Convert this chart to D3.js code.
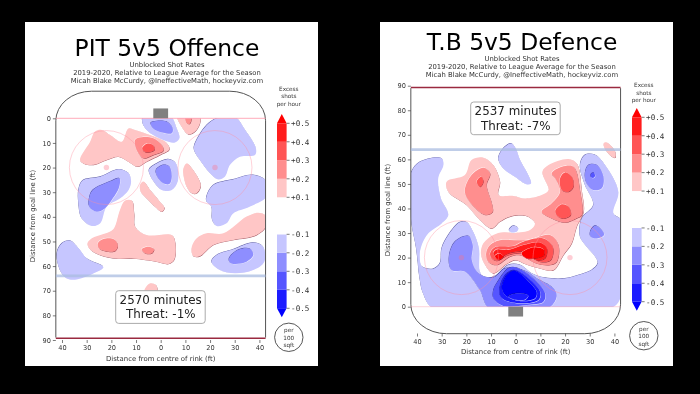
<!DOCTYPE html>
<html><head><meta charset="utf-8">
<script src="https://cdn.jsdelivr.net/npm/d3@7"></script>
<style>html,body{margin:0;padding:0;background:#000}svg{display:block}text{font-family:"DejaVu Sans";fill:#222}</style>
</head><body><svg id="c" width="700" height="394"></svg>
<script>
const bandValues = [-0.5,-0.4,-0.3,-0.2,-0.1,0.1,0.2,0.3,0.4,0.5];
const bandColors = ["#0000ff","#1c1cff","#5555ff","#8e8eff","#c6c6ff","#ffc6c6","#ff8e8e","#ff5555","#ff1c1c","#ff0000"];
const xTicks = [-40,-30,-20,-10,0,10,20,30,40];
const yTicks = [0,10,20,30,40,50,60,70,80,90];
const cbarTicks = [0.5,0.4,0.3,0.2,0.1,-0.1,-0.2,-0.3,-0.4,-0.5];

const pitLevels = [.1,.2,.3,-.1,-.2,.1,.2,-.1,-.1,-.2,-.1,-.2,.1,.1,-.1,.1,.2,.2,.1,-.1,-.2,-.1,.1];
const pitRings = [
[[-32.7,16.9],[-28.6,9.5],[-26.6,5.4],[-23.9,4.7],[-20.5,6.8],[-15.8,9.5],[-13.1,4.1],[-10.4,4.7],[-4.3,6.8],[1.8,9.5],[3.5,12.6],[-.3,14.9],[-5.7,17.6],[-9.4,19.6],[-13.1,17.6],[-17.1,15.6],[-21.9,16.9],[-27.3,18.9],[-31.3,18.3]],
[[-10.4,8.8],[-7.7,7.7],[-3,8.1],[.4,10.8],[1.1,13.1],[-3,14.9],[-7,16.2],[-9.4,13.5]],
[[-7.5,12],[-5.5,10.3],[-3,11],[-2.5,12.8],[-5,13.8],[-7,13.3]],
[[-7,-1],[-7.3,2],[-5,5.4],[1.1,8.8],[5.8,9.8],[7.6,8.1],[6.5,4.1],[3.8,-1]],
[[-4,1.8],[-1.6,1.1],[2.4,1.4],[4.9,4.1],[4.5,6.1],[1.1,5.9],[-3,4.1]],
[[6.7,-1],[8.5,3.4],[11.2,6.5],[13.9,5.4],[15.9,2],[15.7,-1]],
[[9.9,-1],[10.5,1.8],[11.6,2.3],[12.4,.7],[12.1,-1]],
[[13.5,11.5],[18.7,2.7],[24,-.5],[30.1,-.5],[34.2,4.7],[38.6,12.2],[38.2,14.9],[32.1,15.6],[28.1,18.9],[26,23.7],[23.3,24.8],[20,22.3],[15.9,16.9],[13.8,13.5]],
[[-33.3,29.1],[-31.7,25.3],[-24.5,23.7],[-17,20.7],[-13,22.3],[-12,25.7],[-13,29.1],[-16.4,32.5],[-21.9,35.9],[-24.5,42.6],[-27.9,43.7],[-32,40.6],[-33.3,34.5]],
[[-28.9,32.1],[-27.5,29.1],[-20.7,25.7],[-16.7,24.4],[-17,28.4],[-19.4,32.5],[-22.5,36.5],[-25.9,37.9],[-28.9,35.9]],
[[-4.7,20.7],[-1.6,18.3],[3.1,16.6],[6.2,18.3],[6.9,25.7],[4.5,29.1],[.4,29.1],[-2.3,26.4],[-4.3,23]],
[[-1.9,21],[1.1,18.9],[3.5,19.6],[4.5,23.7],[3.5,26.7],[1.1,26.4],[-1.3,23.7]],
[[9.2,20.3],[10.5,18.3],[12.6,20.3],[16.2,27.1],[14.6,30.4],[12.6,30.4],[10.5,27.7],[9.2,23]],
[[-8.4,27.1],[-7,25.7],[-4.3,29.1],[-.9,33.2],[1.5,36.5],[.4,37.9],[-2.3,35.9],[-5.7,32.5],[-8.1,29.8]],
[[18.6,31.7],[21.3,27.1],[29.4,24.8],[37.5,23],[43,25.7],[43,31.7],[36,35.9],[29.4,38.6],[26.7,42.6],[22.7,43.7],[20.9,41.2],[20.6,35.9],[18.6,33.8]],
[[-29.7,50.8],[-27.9,48.7],[-23.2,47],[-19.2,45],[-16.5,37.2],[-14.4,33.4],[-11.7,33.4],[-10.8,38.6],[-10.4,44],[-5.7,47.4],[4.5,47.4],[5.9,50.8],[5.4,57.5],[3.1,59.1],[-1.6,58.2],[-11.1,56.9],[-17.8,56.9],[-24.6,55.5],[-28.6,53.2]],
[[-25.5,50.8],[-23.2,49],[-19.2,49],[-17.4,51.4],[-18.5,53.9],[-22.5,53.9],[-25,52.8]],
[[-7.7,53.2],[-5,52.1],[-2.7,53.2],[-3.6,54.8],[-6.3,54.8]],
[[12.6,52.1],[14.6,48.7],[18.6,46.7],[25.4,46.7],[34.8,39.9],[39.5,38.3],[42.2,39.3],[42.6,43.9],[38.8,47.4],[29.4,49.4],[21.3,51.4],[16,55.9],[13.5,56.1],[12.6,54.8]],
[[20.6,58.2],[22.7,55.5],[29.4,53.2],[37.5,50.5],[41.5,52.1],[42,58.2],[37.5,61.6],[30.1,62.9],[24,61.6]],
[[27.7,56.9],[31.4,53.4],[36.2,53],[37.5,55.5],[34.8,58.2],[30.1,59.1],[28.1,58.6]],
[[-42.1,54.8],[-40.1,50.8],[-36.7,49.7],[-33.3,52.8],[-30,56.9],[-23.2,60.5],[-27.3,63],[-34,65.4],[-38.1,65],[-40.8,61.6]],
[[-6.6,69.7],[-4.3,67],[-1.9,67.7],[-1.3,69.7],[-1,72],[-6.6,72]]
];

const tbLevels = [-.1,-.1,-.2,-.3,-.2,.1,.2,.3,.2,.3,.3,.1,.2,.3,.4,.5,.5,-.1,-.2,-.3,-.4,-.5,-.4];
const tbRings = [
[[-43,50],[-42.2,55],[-38.8,59],[-30,60.4],[-29.3,57.7],[-31.4,52.3],[-30.3,44.1],[-27.3,37.3],[-30,33.9],[-35.4,29.9],[-38.1,25.1],[-38.9,20.4],[-37.9,16.3],[-33.4,15.4],[-30.7,17.7],[-30,23.8],[-27.3,29.2],[-22.6,34.4],[-19.9,34.4],[-17.2,30.5],[-14.9,23.8],[-14.5,14.3],[-12.4,11.6],[-7.7,12.9],[-3,17],[1.8,17],[6.5,13.6],[11.9,11.8],[20,11.5],[25.4,12.9],[30.8,14.9],[33.3,17.7],[32.2,20.4],[28.8,24.4],[26.1,28.5],[26.8,36],[31.5,41.4],[28.1,49.6],[26.1,57.7],[28.1,61.8],[32.2,61.8],[36.2,57.7],[41.6,46.8],[39.6,38],[43,35],[43,6],[41,1],[37,-1],[-33,-1],[-37.5,5.4],[-39,12.2],[-39.8,19.7],[-40.4,24.4],[-42.2,33.9],[-43,45]],
[[-7,60.4],[-5,64.5],[-1.9,66.5],[0,64.5],[1.8,59.7],[5.1,53.6],[6.2,50.2],[4.5,49.8],[-.3,52.9],[-5,56.3]],
[[28.1,54.3],[29.5,57.7],[32.9,57.7],[35.6,52.9],[34.9,48.2],[31.5,47.5],[28.8,50.2]],
[[30.5,54],[31.5,54.6],[32.2,53.5],[31.6,52.5],[30.6,52.7]],
[[30.2,30.5],[32.2,33],[34.9,31.2],[35.8,29.2],[32.9,27.8],[30.4,28.5]],
[[-28,50.9],[-20.6,53.6],[-17.9,59.7],[-13.1,60.7],[-9.1,57.7],[-6.4,50.9],[-7,45.5],[-.9,45.1],[3.8,44.1],[10.5,45.5],[13.3,47.5],[10.8,55],[13.3,57.7],[21.4,60.1],[24.7,58.4],[26.8,46.8],[27.5,38.7],[24.7,32.6],[22.7,25.8],[19.3,21],[15.3,14.9],[9.9,15.6],[3.8,17.4],[0,19],[-3.7,17.4],[-9.1,13.6],[-12.4,17],[-14.1,21.7],[-13.1,25.8],[-9.1,29.2],[-5,30.3],[-.3,30.1],[5.8,31.2],[7.8,33.9],[4.5,36.9],[-1.6,36.9],[-6.4,34.6],[-9.7,31.9],[-14.5,35.3],[-19.9,41.4],[-27.3,46.8]],
[[-20.6,46.8],[-17.9,53.6],[-13.1,56.6],[-10.4,54.3],[-11.8,49.5],[-9.7,42.1],[-9.4,38.5],[-12.3,37.4],[-17,40.8]],
[[-15.8,50.9],[-14,52.9],[-13.1,50.9],[-14.4,48.8]],
[[14.6,54.3],[18.7,57],[23.4,57],[26.1,46.8],[26.8,37.3],[24.7,36],[20,34.3],[14.6,36],[10.5,38.7],[14.6,42.1],[18,46.8],[16,52.3]],
[[18,52.3],[20,54.7],[22.7,52.9],[23.4,48.9],[21.4,46.8],[18.7,47.5]],
[[16,39],[18.7,41.7],[21.4,40.7],[22.3,37.3],[20,36],[17.3,36.6]],
[[35.6,66.5],[36.9,66.9],[40.3,63.1],[40.3,60.7],[39,61.1],[36.2,64.2]],
[[-12,21.7],[-10.4,25.1],[-6.4,27.1],[4.5,27.1],[13.9,29.2],[17.3,25.1],[16.6,18.3],[13.9,17],[8.5,17.6],[1.8,21],[-2.3,20.4],[-7.7,17],[-11.1,18.3]],
[[-10.4,21.7],[-8.4,24.2],[-.9,24.7],[3.1,26.5],[11.2,27.8],[15,24.4],[14.2,19],[9.9,18.3],[3.1,21.7],[-3,21],[-7.7,18.7],[-9.7,19.7]],
[[-9.1,21.7],[-7.7,23.3],[-3,23.1],[3.1,25.1],[9.9,26.1],[12.6,23.8],[11.9,19.7],[8.5,19],[3.1,22.4],[-3,21.7],[-7,19.7]],
[[-8.4,20.6],[-6.6,21.7],[-5,20.4],[-7,19]],
[[2.4,21.7],[7.2,24.2],[11.2,23.4],[11.5,21],[7.8,19.7],[4.5,19.7]],
[[-2.7,31.2],[-.9,33],[1.1,31.9],[.4,30.5],[-1.9,30.3]],
[[-27,20.4],[-24.6,26.5],[-19.2,28.8],[-17.4,25.1],[-17.8,19],[-15.1,13.6],[-9,11.9],[-4.3,15.6],[4.5,14.3],[8.5,11.5],[15.3,7.5],[16.6,4.1],[12.6,-1],[-10.4,-1],[-14.5,6.8],[-20.6,14.3],[-26,14.9]],
[[-9,6.8],[-7.7,9.5],[-3,15.6],[.4,15.9],[8.5,10.2],[11.9,5.4],[11.2,2],[4.5,.7],[-5,.3],[-9,3.4]],
[[-6.6,6.8],[-4.3,12.9],[-.9,14.9],[2.4,13.6],[9.9,6.1],[9.2,2.7],[1.8,1.4],[-5.6,3.4]],
[[-5.6,8.1],[-3,13.6],[-.3,14.6],[4.5,10.9],[8.5,6.1],[7.8,3.4],[1.8,2.4],[-4.3,4.7]],
[[-3,4.3],[1,5.5],[5,4.6],[4,3],[0,2.8]]
];

const svg = d3.select("#c");
const defs = svg.append("defs");
defs.append("filter").attr("id","soft").append("feGaussianBlur").attr("stdDeviation",0.42);
svg.append("rect").attr("width",700).attr("height",394).attr("fill","#000");
const bandScale = d3.scaleThreshold().domain([-.45,-.35,-.25,-.15,0,.15,.25,.35,.45]).range(bandColors);
const mono = '"DejaVu Sans Mono"';

function panel(o){
  const g = svg.append("g").attr("filter","url(#soft)");
  g.append("rect").attr("x",o.card[0]).attr("y",22).attr("width",293).attr("height",344).attr("fill","#fff");
  const x = d3.scaleLinear().domain([-40,40]).range([o.x0-98.7,o.x0+98.7]);
  const y = d3.scaleLinear().domain([0,90]).range(o.yRange);
  const clipId = "clip"+o.id;
  defs.append("clipPath").attr("id",clipId).append("rect")
    .attr("x",x(-42.5)).attr("width",x(42.5)-x(-42.5))
    .attr("y",Math.min(y(0),y(90))).attr("height",Math.abs(y(90)-y(0)));
  const line = d3.line().x(d=>x(d[0])).y(d=>y(d[1])).curve(d3.curveCatmullRomClosed.alpha(0.5));
  const c = g.append("g").attr("clip-path",`url(#${clipId})`);
  o.rings.forEach((r,i)=>{
    const lv = o.levels[i], col = bandScale(lv), s = lv>0?1:-1;
    const dark = lv>0?"#7a1020":"#1a1a80";
    c.append("path").attr("d",line(r)).attr("fill",dark).attr("fill-opacity",.7)
      .attr("transform",`translate(${s*.3},${s*.38})`);
    c.append("path").attr("d",line(r)).attr("fill","#fff").attr("fill-opacity",.8)
      .attr("transform",`translate(${-s*.3},${-s*.38})`);
    c.append("path").attr("d",line(r)).attr("fill",col);
  });
  // rink furniture
  const y0=y(1), lx=x(-42.5), rx2=x(42.5), yEnd=y(89);
  const yInner = y(-11), ex = Math.abs(x(-28)-x(-42.5)), ey = Math.abs(y(-11)-y(1));
  g.append("path").attr("fill","none").attr("stroke","#555").attr("stroke-width",1)
   .attr("d",`M${lx},${yEnd}L${lx},${y0}A${ex},${ey} 0 0 ${o.flip?0:1} ${x(-28)},${yInner}L${x(28)},${yInner}A${ex},${ey} 0 0 ${o.flip?0:1} ${rx2},${y0}L${rx2},${yEnd}`);
  g.append("line").attr("x1",lx).attr("x2",rx2).attr("y1",y(89.3)).attr("y2",y(89.3)).attr("stroke","#9a2a40").attr("stroke-width",1.5);
  g.append("line").attr("x1",lx).attr("x2",rx2).attr("y1",y(0)).attr("y2",y(0)).attr("stroke","#ff9fb0").attr("stroke-opacity",o.goalOp).attr("stroke-width",1.2);
  g.append("line").attr("x1",lx).attr("x2",rx2).attr("y1",y(64)).attr("y2",y(64)).attr("stroke","#a9bce0").attr("stroke-opacity",.75).attr("stroke-width",2.8);
  [-22,22].forEach(cx=>{
    g.append("circle").attr("cx",x(cx)).attr("cy",y(20)).attr("r",x(15)-x(0)).attr("fill","none").attr("stroke","#ff8fa0").attr("stroke-opacity",.4).attr("stroke-width",1);
    g.append("circle").attr("cx",x(cx)).attr("cy",y(20)).attr("r",2.7).attr("fill","#ff7088").attr("fill-opacity",.35);
  });
  g.append("rect").attr("x",x(-3)).attr("width",x(3)-x(-3))
    .attr("y",Math.min(y(0),y(-4))).attr("height",Math.abs(y(-4)-y(0))).attr("fill","#808080");
  // axes
  const xAxis = d3.axisBottom(x).tickValues(xTicks).tickFormat(d=>Math.abs(d)).tickSize(3).tickPadding(2.5);
  const yAxis = d3.axisLeft(y).tickValues(yTicks).tickSize(3).tickPadding(2);
  const ax = g.append("g").attr("transform",`translate(0,${o.axisY})`).call(xAxis);
  const ay = g.append("g").attr("transform",`translate(${lx},0)`).call(yAxis);
  [ax,ay].forEach(a=>{a.select(".domain").remove();a.selectAll("text").attr("font-size",6.6).attr("font-family","DejaVu Sans").style("fill","#333");a.selectAll("line").attr("stroke","#444").attr("stroke-width",.7);});
  g.append("text").attr("x",o.x0).attr("y",o.axisY+20.5).attr("text-anchor","middle").attr("font-size",6.9).style("fill","#333").text("Distance from centre of rink (ft)");
  g.append("text").attr("transform",`translate(${o.x0-125.5},${o.yLab}) rotate(-90)`).attr("text-anchor","middle").attr("font-size",6.9).style("fill","#333").text("Distance from goal line (ft)");
  // titles
  g.append("text").attr("x",o.tx).attr("y",o.ty).attr("text-anchor","middle").attr("font-size",o.tfs).style("fill","#000").text(o.title);
  o.subs.forEach((t,i)=>g.append("text").attr("x",o.tx).attr("y",o.ty+o.sub0+i*8).attr("text-anchor","middle").attr("font-size",6.85).style("fill","#333").text(t));
  // threat box
  g.append("rect").attr("x",o.x0-45).attr("width",89.5).attr("y",o.boxY).attr("height",32.7).attr("rx",3).attr("fill","#fff").attr("stroke","#aaa").attr("stroke-width",1);
  g.append("text").attr("x",o.x0).attr("y",o.boxY+13.3).attr("text-anchor","middle").attr("font-size",11.9).text(o.minutes);
  g.append("text").attr("x",o.x0).attr("y",o.boxY+27.5).attr("text-anchor","middle").attr("font-size",11.9).text(o.threat);
  // colourbar
  const cb = d3.scaleLinear().domain([.5,-.5]).range(o.cbar);
  const bx=o.cbx, bw=9.6, mid=bx+bw/2;
  const bandEdges = [[-.5,-.4],[-.4,-.3],[-.3,-.2],[-.2,-.1],[-.1,.1],[.1,.2],[.2,.3],[.3,.4],[.4,.5]];
  const bandFill = ["#1c1cff","#5555ff","#8e8eff","#c6c6ff","#ffffff","#ffc6c6","#ff8e8e","#ff5555","#ff1c1c"];
  g.selectAll(null).data(bandEdges).enter().append("rect").attr("x",bx).attr("width",bw)
    .attr("y",d=>cb(d[1])).attr("height",d=>cb(d[0])-cb(d[1])).attr("fill",(d,i)=>bandFill[i]);
  g.append("path").attr("fill","#ff0000").attr("d",`M${bx},${cb(.5)}L${mid},${cb(.5)-9.3}L${bx+bw},${cb(.5)}Z`);
  g.append("path").attr("fill","#0000ff").attr("d",`M${bx},${cb(-.5)}L${mid},${cb(-.5)+9}L${bx+bw},${cb(-.5)}Z`);
  g.selectAll(null).data(cbarTicks).enter().append("line").attr("x1",bx+bw).attr("x2",bx+bw+3).attr("y1",d=>cb(d)).attr("y2",d=>cb(d)).attr("stroke","#444").attr("stroke-width",.7);
  g.selectAll(null).data(cbarTicks).enter().append("text").attr("x",bx+bw+4.5).attr("y",d=>cb(d)+2.8)
    .attr("font-size",7.6).style("font-family",mono).style("fill","#333").text(d=>(d>0?"+":"")+d3.format(".1f")(d).replace("\u2212","-"));
  ["Excess","shots","per hour"].forEach((t,i)=>g.append("text").attr("x",mid+7).attr("y",o.cbTitle+i*7.5).attr("text-anchor","middle").attr("font-size",5.7).style("fill","#333").text(t));
  g.append("circle").attr("cx",mid+7).attr("cy",o.perY).attr("r",14.2).attr("fill","#fff").attr("stroke","#444").attr("stroke-width",.9);
  ["per","100","sqft"].forEach((t,i)=>g.append("text").attr("x",mid+7).attr("y",o.perY-5+i*7.4).attr("text-anchor","middle").attr("font-size",5.7).style("fill","#333").text(t));
}

const subs = ["Unblocked Shot Rates","2019-2020, Relative to League Average for the Season","Micah Blake McCurdy, @IneffectiveMath, hockeyviz.com"];
panel({id:"a",card:[25],x0:160.7,yRange:[118.3,340],flip:false,axisY:340,yLab:216,tx:167,ty:56,tfs:23.4,sub0:11,subs,goalOp:.7,
  title:"PIT 5v5 Offence",boxY:290.7,minutes:"2570 minutes",threat:"Threat: -1%",
  cbx:277,cbar:[123.3,308.3],cbTitle:90.5,perY:337.3,levels:pitLevels,rings:pitRings});
panel({id:"b",card:[380],x0:515.7,yRange:[306.7,85.7],flip:true,axisY:333.5,yLab:210,tx:522,ty:50,tfs:23.4,sub0:11,subs,goalOp:.35,
  title:"T.B 5v5 Defence",boxY:102,minutes:"2537 minutes",threat:"Threat: -7%",
  cbx:632,cbar:[117.3,301.7],cbTitle:87,perY:335.7,levels:tbLevels,rings:tbRings});
</script></body></html>
